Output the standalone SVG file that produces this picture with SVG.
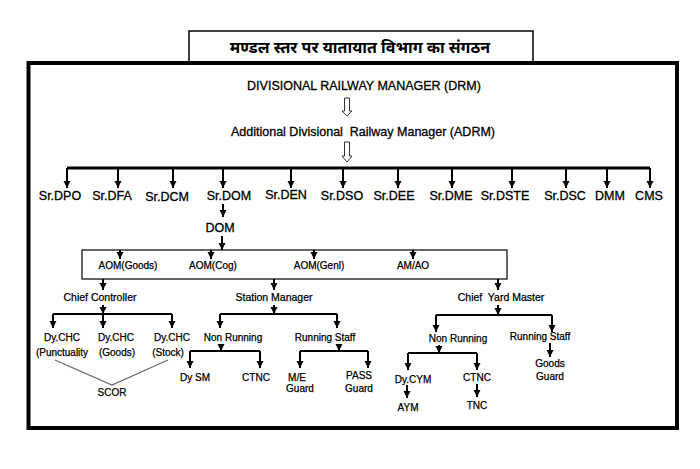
<svg xmlns="http://www.w3.org/2000/svg" width="700" height="469" viewBox="0 0 700 469">
<defs>
<marker id="ah" markerUnits="userSpaceOnUse" markerWidth="8" markerHeight="8" refX="7" refY="3.5" orient="auto">
<path d="M0,0 L7,3.5 L0,7 z" fill="#000"/>
</marker>
<style>
.t{font-family:"Liberation Sans",Arial,sans-serif;font-size:12.5px;fill:#000;stroke:#000;stroke-width:0.3;text-anchor:middle}
.s{font-family:"Liberation Sans",Arial,sans-serif;font-size:10px;fill:#000;stroke:#000;stroke-width:0.25;text-anchor:middle}
.ln{stroke:#000;stroke-width:2;fill:none}
.ar{stroke:#000;stroke-width:2;fill:none;marker-end:url(#ah)}
.hol{stroke:#333;stroke-width:1;fill:#fff}
</style>
</defs>
<rect width="700" height="469" fill="#fff"/>
<g id="title">
<rect x="189" y="31" width="344" height="32" fill="#fff" stroke="#000" stroke-width="1.5"/>
<text x="360" y="53" style="font-family:'Noto Sans Devanagari','Lohit Devanagari','FreeSans','Noto Sans',sans-serif;font-size:16px;font-weight:bold;text-anchor:middle">मण्डल स्तर पर यातायात विभाग का संगठन</text>
</g>
<rect id="frame" x="28.5" y="63" width="648.5" height="365" fill="none" stroke="#000" stroke-width="4"/>

<g id="connectors">
<path class="hol" d="M344.5,98 H349.5 V111 H352 L347,116 L342,111 H344.5 Z"/>
<path class="hol" d="M344.5,142 H349.5 V156 H352 L347,162 L342,156 H344.5 Z"/>
<path d="M67,168 H650" stroke="#000" stroke-width="3" fill="none"/>
<path class="ar" d="M67,168 V188"/>
<path class="ar" d="M118,168 V188"/>
<path class="ar" d="M173,168 V188"/>
<path class="ar" d="M223,168 V188"/>
<path class="ar" d="M291,168 V188"/>
<path class="ar" d="M343,168 V188"/>
<path class="ar" d="M398,168 V188"/>
<path class="ar" d="M452,168 V188"/>
<path class="ar" d="M512,168 V188"/>
<path class="ar" d="M566,168 V188"/>
<path class="ar" d="M607,168 V188"/>
<path class="ar" d="M650,168 V188"/>
<path class="ar" d="M223,204 V217"/>
<path class="ar" d="M222,236 V250"/>
<rect x="82" y="250" width="425" height="29" fill="none" stroke="#000" stroke-width="1.2"/>
<path class="ar" d="M120,250 V259"/>
<path class="ar" d="M211,250 V259"/>
<path class="ar" d="M314,250 V259"/>
<path class="ar" d="M413,250 V259"/>
<path class="ar" d="M103,279 V290"/>
<path class="ar" d="M274,279 V290"/>
<path class="ar" d="M498,279 V290"/>
<path class="ar" d="M103,305 V314"/>
<path class="ln" d="M53,314 H172"/>
<path class="ar" d="M53,314 V328"/>
<path class="ar" d="M103,314 V328"/>
<path class="ar" d="M172,314 V328"/>
<path d="M55,360 L112,385 L168,360" stroke="#666" stroke-width="1.2" fill="none"/>
<path class="ar" d="M274,305 V314"/>
<path class="ln" d="M220,314 H337"/>
<path class="ar" d="M220,314 V328"/>
<path class="ar" d="M337,314 V328"/>
<path class="ar" d="M221,344 V351"/>
<path class="ln" d="M190,351 H260"/>
<path class="ar" d="M190,351 V368"/>
<path class="ar" d="M260,351 V368"/>
<path class="ar" d="M339,344 V351"/>
<path class="ln" d="M300,351 H368"/>
<path class="ar" d="M300,351 V368"/>
<path class="ar" d="M368,351 V368"/>
<path class="ar" d="M498,305 V315"/>
<path class="ln" d="M436,315 H552"/>
<path class="ar" d="M436,315 V332"/>
<path class="ar" d="M552,315 V332"/>
<path class="ar" d="M439,345 V353"/>
<path class="ln" d="M408,353 H477"/>
<path class="ar" d="M408,353 V370"/>
<path class="ar" d="M477,353 V370"/>
<path class="ar" d="M407,385 V398"/>
<path class="ar" d="M477,384 V397"/>
<path class="ar" d="M550,343 V357"/>
</g>

<g id="drm"><text class="t" x="364" y="90">DIVISIONAL RAILWAY MANAGER (DRM)</text></g>
<g id="adrm"><text class="t" x="363" y="136" xml:space="preserve">Additional Divisional  Railway Manager (ADRM)</text></g>
<g id="srdpo"><text class="t" x="60" y="200">Sr.DPO</text></g>
<g id="srdfa"><text class="t" x="112" y="200">Sr.DFA</text></g>
<g id="srdcm"><text class="t" x="167" y="201">Sr.DCM</text></g>
<g id="srdom"><text class="t" x="229" y="200">Sr.DOM</text></g>
<g id="srden"><text class="t" x="286" y="199">Sr.DEN</text></g>
<g id="srdso"><text class="t" x="342" y="200">Sr.DSO</text></g>
<g id="srdee"><text class="t" x="394" y="200">Sr.DEE</text></g>
<g id="srdme"><text class="t" x="451" y="200">Sr.DME</text></g>
<g id="srdste"><text class="t" x="505" y="200">Sr.DSTE</text></g>
<g id="srdsc"><text class="t" x="565" y="200">Sr.DSC</text></g>
<g id="dmm"><text class="t" x="610" y="200">DMM</text></g>
<g id="cms"><text class="t" x="649" y="200">CMS</text></g>
<g id="dom"><text class="t" x="220" y="232">DOM</text></g>
<g id="aomgoods"><text class="s" x="128" y="269">AOM(Goods)</text></g>
<g id="aomcog"><text class="s" x="213" y="269">AOM(Cog)</text></g>
<g id="aomgenl"><text class="s" x="319" y="269">AOM(Genl)</text></g>
<g id="amao"><text class="s" x="413" y="269">AM/AO</text></g>
<g id="cc"><text class="s" x="100" y="301" style="font-size:10.5px">Chief Controller</text></g>
<g id="sm"><text class="s" x="274" y="301" style="font-size:10.5px">Station Manager</text></g>
<g id="cym"><text class="s" x="501" y="301" style="font-size:10.5px" xml:space="preserve">Chief  Yard Master</text></g>
<g id="dychc1"><text class="s" x="62" y="341">Dy.CHC</text><text class="s" x="62" y="356">(Punctuality</text></g>
<g id="dychc2"><text class="s" x="116" y="341">Dy.CHC</text><text class="s" x="117" y="356">(Goods)</text></g>
<g id="dychc3"><text class="s" x="172" y="341">Dy.CHC</text><text class="s" x="168" y="356">(Stock)</text></g>
<g id="scor"><text class="s" x="112" y="396">SCOR</text></g>
<g id="nr1"><text class="s" x="233" y="341">Non Running</text></g>
<g id="rs1"><text class="s" x="325" y="341">Running Staff</text></g>
<g id="dysm"><text class="s" x="195" y="381">Dy SM</text></g>
<g id="ctnc1"><text class="s" x="256" y="381">CTNC</text></g>
<g id="meguard"><text class="s" x="297" y="381">M/E</text><text class="s" x="300" y="392">Guard</text></g>
<g id="passguard"><text class="s" x="359" y="379">PASS</text><text class="s" x="359" y="392">Guard</text></g>
<g id="nr2"><text class="s" x="458" y="342">Non Running</text></g>
<g id="rs2"><text class="s" x="540" y="340">Running Staff</text></g>
<g id="dycym"><text class="s" x="413" y="383">Dy.CYM</text></g>
<g id="ctnc2"><text class="s" x="477" y="381">CTNC</text></g>
<g id="aym"><text class="s" x="408" y="411">AYM</text></g>
<g id="tnc"><text class="s" x="477" y="409">TNC</text></g>
<g id="goodsguard"><text class="s" x="550" y="367">Goods</text><text class="s" x="550" y="380">Guard</text></g>
</svg>
